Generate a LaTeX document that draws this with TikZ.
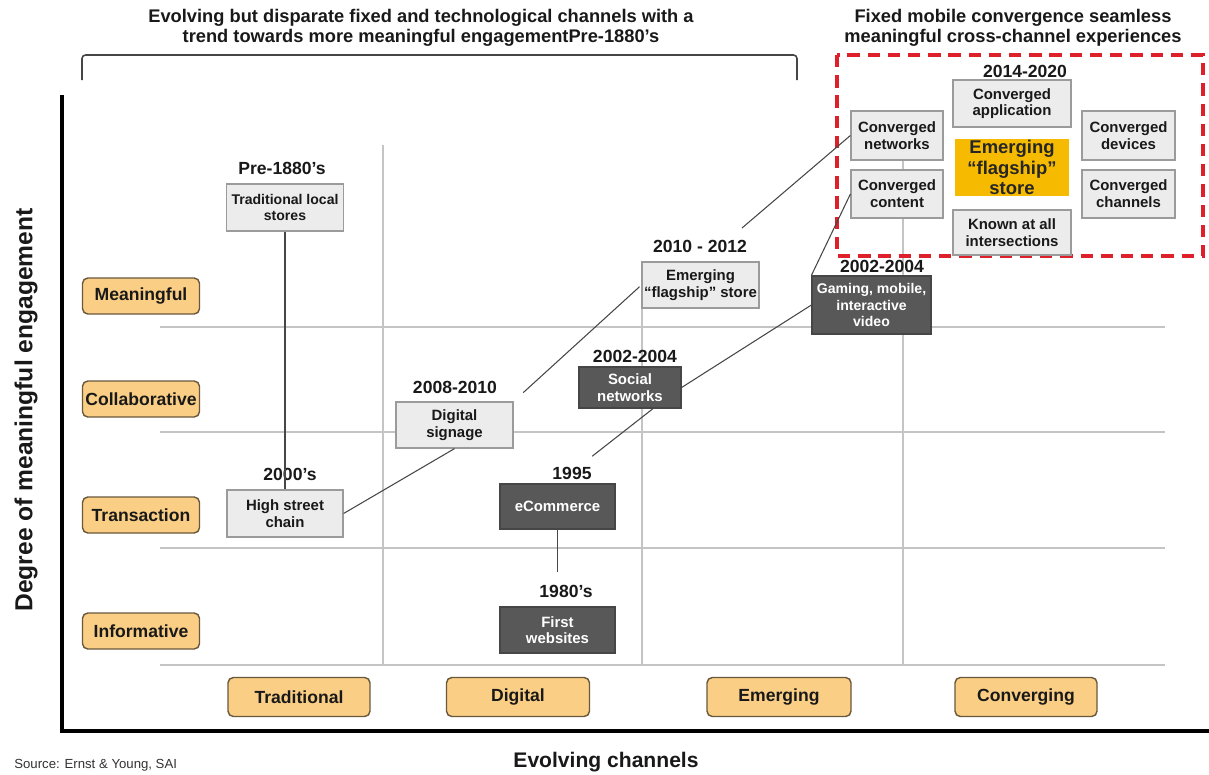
\documentclass[tikz,border=0pt]{standalone}
\usepackage{fontspec}
\setmainfont{Liberation Sans}
\definecolor{orangefill}{RGB}{250,206,132}
\definecolor{orangeline}{RGB}{105,88,60}
\definecolor{gridgray}{RGB}{196,196,196}
\definecolor{lightfill}{RGB}{236,236,236}
\definecolor{lightline}{RGB}{155,155,155}
\definecolor{darkfill}{RGB}{88,88,88}
\definecolor{darkline}{RGB}{70,70,70}
\definecolor{goldfill}{RGB}{246,186,0}
\definecolor{dashred}{RGB}{222,32,42}
\definecolor{connline}{RGB}{70,70,70}
\definecolor{textdark}{RGB}{25,25,25}
\tikzset{
  every node/.style={text=textdark},
  lbox/.style={draw=lightline, fill=lightfill, line width=0.7pt, align=center, inner sep=1pt,
    font=\fontsize{8.5}{9.5}\selectfont\bfseries},
  dbox/.style={draw=darkline, fill=darkfill, line width=0.7pt, align=center, inner sep=1pt,
    text=white, font=\fontsize{8.5}{9.5}\selectfont\bfseries},
  axlabel/.style={draw=orangeline, fill=orangefill, line width=0.8pt, rounded corners=3pt,
    align=center, inner sep=1pt, font=\fontsize{10}{12}\selectfont\bfseries},
  year/.style={font=\fontsize{10}{12}\selectfont\bfseries, inner sep=0pt},
  gridline/.style={draw=gridgray, line width=0.9pt},
  conn/.style={draw=connline, line width=0.6pt},
  title/.style={font=\fontsize{10.4}{11.5}\selectfont\bfseries, align=center, inner sep=0pt},
}
\begin{document}
\begin{tikzpicture}[x=0.02cm, y=-0.02cm]
\useasboundingbox (0,0) rectangle (1209,774);
\fill[white] (0,0) rectangle (1209,774);

% grid
\foreach \yy in {327,432,548,665} \draw[gridline] (160,\yy) -- (1165,\yy);
\draw[gridline] (383,145) -- (383,665);
\draw[gridline] (642,262) -- (642,665);
\draw[gridline] (903,160) -- (903,665);

% axes
\draw[line width=1.9pt, black] (62,95) -- (62,731) -- (1209,731);

% bracket and titles
\draw[draw=darkline, line width=0.9pt, rounded corners=2pt] (82,80) -- (82,55) -- (797,55) -- (797,80);
\node[title] (t1) at (421,28) {Evolving but disparate fixed and technological channels with a\\trend towards more meaningful engagementPre-1880's};
\node[title] (t2) at (1013,28) {Fixed mobile convergence seamless\\meaningful cross-channel experiences};

% red dashed box
\draw[dashred, line width=1.8pt, dash pattern=on 7pt off 4.5pt] (837,55) rectangle (1203,256);

% axis labels
\node[axlabel, minimum width=2.34cm, minimum height=0.72cm] (lmean) at (141,296) {Meaningful};
\node[axlabel, minimum width=2.34cm, minimum height=0.72cm] (lcoll) at (141,399) {Collaborative};
\node[axlabel, minimum width=2.34cm, minimum height=0.72cm] (ltran) at (141,515) {Transaction};
\node[axlabel, minimum width=2.34cm, minimum height=0.72cm] (linfo) at (141,631) {Informative};
\node[axlabel, minimum width=2.84cm, minimum height=0.78cm] (ctrad) at (299,697) {Traditional};
\node[axlabel, minimum width=2.86cm, minimum height=0.78cm] (cdig) at (518,697) {Digital};
\node[axlabel, minimum width=2.88cm, minimum height=0.78cm] (cemer) at (779,697) {Emerging};
\node[axlabel, minimum width=2.84cm, minimum height=0.78cm] (cconv) at (1026,697) {Converging};

% axis titles
\node[font=\fontsize{14}{16}\selectfont\bfseries, rotate=90, inner sep=0pt] (yt) at (26,410) {Degree of meaningful engagement};
\node[font=\fontsize{12}{14}\selectfont\bfseries, inner sep=0pt] (xt) at (606,762) {Evolving channels};
\node[font=\fontsize{7.5}{9}\selectfont, anchor=west, inner sep=0pt, text=black!80] (src) at (14,765) {Source: Ernst \& Young, SAI};

% timeline boxes
\node[year] (ypre) at (282,168) {Pre-1880's};
\node[lbox, minimum width=2.34cm, minimum height=0.94cm, font=\fontsize{8}{9.5}\selectfont\bfseries] (trad) at (285,207.5) {Traditional local\\stores};
\node[year] (y2000) at (290,474) {2000's};
\node[lbox, minimum width=2.32cm, minimum height=0.94cm] (high) at (285,513.5) {High street\\chain};
\node[year] (y0810) at (455,387) {2008-2010};
\node[lbox, minimum width=2.34cm, minimum height=0.92cm] (dsig) at (454.5,425) {Digital\\signage};
\node[year] (y1012) at (700,246) {2010 - 2012};
\node[lbox, minimum width=2.34cm, minimum height=0.92cm] (flag1) at (700.5,285) {Emerging\\“flagship” store};
\node[year] (y0204a) at (635,356) {2002-2004};
\node[dbox, minimum width=2.04cm, minimum height=0.82cm] (social) at (630,387.5) {Social\\networks};
\node[year] (y1995) at (572,473) {1995};
\node[dbox, minimum width=2.30cm, minimum height=0.90cm] (ecom) at (557.5,506.5) {eCommerce};
\node[year] (y1980) at (566,591) {1980's};
\node[dbox, minimum width=2.30cm, minimum height=0.92cm] (fweb) at (557.5,630) {First\\websites};
\node[year] (y0204b) at (882,266) {2002-2004};
\node[dbox, minimum width=2.38cm, minimum height=1.16cm, font=\fontsize{8}{9.5}\selectfont\bfseries] (gaming) at (871.5,305) {Gaming, mobile,\\interactive\\video};

% converged cluster
\node[year] (y1420) at (1025,71) {2014-2020};
\node[lbox, minimum width=2.36cm, minimum height=0.94cm] (capp) at (1012,103.5) {Converged\\application};
\node[lbox, minimum width=1.84cm, minimum height=0.98cm] (cnet) at (897,135.5) {Converged\\networks};
\node[lbox, minimum width=1.84cm, minimum height=0.96cm] (ccont) at (897,194) {Converged\\content};
\node[draw=none, fill=goldfill, minimum width=2.28cm, minimum height=1.10cm, align=center, inner sep=1pt,
  font=\fontsize{10.5}{11.5}\selectfont\bfseries, text=black!85] (flag2) at (1012,167.5) {Emerging\\“flagship”\\store};
\node[lbox, minimum width=2.36cm, minimum height=0.90cm] (known) at (1012,232.5) {Known at all\\intersections};
\node[lbox, minimum width=1.86cm, minimum height=0.98cm] (cdev) at (1128.5,135.5) {Converged\\devices};
\node[lbox, minimum width=1.86cm, minimum height=0.96cm] (cchan) at (1128.5,194) {Converged\\channels};

% connectors
\coordinate (fstart) at (742,228);
\draw[conn] (trad.south) -- (high.north);
\draw[conn] (high.east) -- (dsig.south);
\draw[conn, shorten <=0.26cm, shorten >=0.05cm] (dsig.north east) -- (flag1.west);
\draw[conn, shorten <=0.88cm] (ecom.north) -- ([xshift=0.46cm]social.south);
\draw[conn] (social.east) -- (gaming.west);
\draw[conn] (fstart) -- (cnet.west);
\draw[conn] (gaming.north west) -- (ccont.west);
\draw[conn, shorten >=0.68cm] (ecom.south) -- (fweb.north);
\end{tikzpicture}
\end{document}
